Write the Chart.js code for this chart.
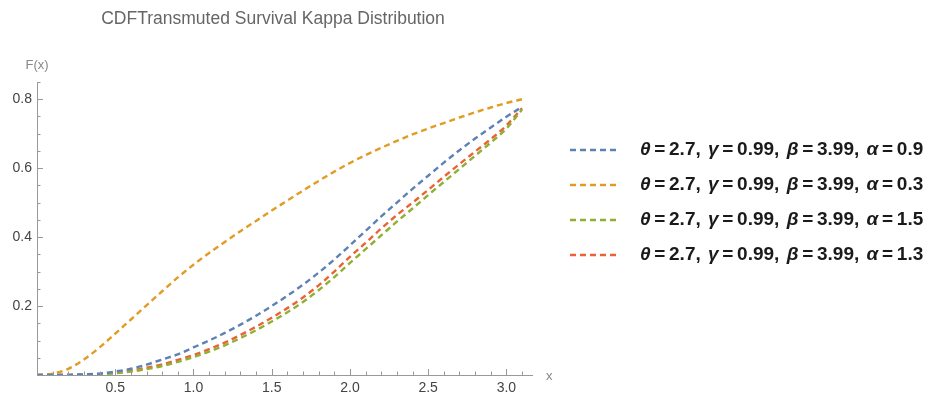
<!DOCTYPE html>
<html>
<head>
<meta charset="utf-8">
<script src="https://cdn.jsdelivr.net/npm/chart.js@4.4.1/dist/chart.umd.min.js"></script>
<style>
  html, body { margin: 0; padding: 0; background: #fff; }
  #wrap { width: 930px; height: 398px; position: relative; }
</style>
</head>
<body>
<div id="wrap"><canvas id="cdfChart"></canvas></div>
<script>
// x values sampled along the curves
const xs = [0, 0.1, 0.2, 0.3, 0.4, 0.5, 0.6, 0.7, 0.8, 0.9, 1.0, 1.1, 1.2, 1.3, 1.4, 1.5,
            1.6, 1.7, 1.8, 1.9, 2.0, 2.1, 2.2, 2.3, 2.4, 2.5, 2.6, 2.7, 2.8, 2.9, 3.0, 3.1];

// F(x) per alpha
const alpha09 = [0, 0, 0.0005, 0.002, 0.004, 0.01, 0.018, 0.03, 0.045, 0.06, 0.08, 0.1, 0.122, 0.146, 0.172, 0.2,
                 0.23, 0.262, 0.297, 0.335, 0.376, 0.418, 0.46, 0.5, 0.54, 0.578, 0.616, 0.652, 0.686, 0.718, 0.749, 0.778];
const alpha03 = [0, 0.004, 0.018, 0.045, 0.08, 0.12, 0.161, 0.202, 0.243, 0.283, 0.32, 0.354, 0.386, 0.417, 0.447, 0.477,
                 0.506, 0.535, 0.563, 0.59, 0.615, 0.638, 0.659, 0.679, 0.698, 0.715, 0.731, 0.747, 0.762, 0.776, 0.789, 0.80];
const alpha15 = [0, 0, 0, 0.001, 0.002, 0.005, 0.01, 0.017, 0.026, 0.038, 0.052, 0.068, 0.086, 0.107, 0.13, 0.155,
                 0.182, 0.212, 0.246, 0.284, 0.325, 0.365, 0.405, 0.445, 0.483, 0.522, 0.56, 0.598, 0.636, 0.674, 0.715, 0.77];
const alpha13 = [0, 0, 0, 0.001, 0.003, 0.007, 0.013, 0.021, 0.031, 0.044, 0.058, 0.075, 0.094, 0.116, 0.14, 0.166,
                 0.194, 0.225, 0.26, 0.3, 0.343, 0.383, 0.425, 0.464, 0.5, 0.537, 0.575, 0.612, 0.648, 0.684, 0.724, 0.774];

const seriesLabels = [
  'θ = 2.7,  γ = 0.99,  β = 3.99,  α = 0.9',
  'θ = 2.7,  γ = 0.99,  β = 3.99,  α = 0.3',
  'θ = 2.7,  γ = 0.99,  β = 3.99,  α = 1.5',
  'θ = 2.7,  γ = 0.99,  β = 3.99,  α = 1.3'
];
const seriesValues = [alpha09, alpha03, alpha15, alpha13];
const seriesColors = ['#5e81b5', '#e19c24', '#8fb032', '#eb6235'];

const xTickLabels = [0.5, 1.0, 1.5, 2.0, 2.5, 3.0];
const yTickLabels = [0.2, 0.4, 0.6, 0.8];

const datasets = seriesValues.map(function(vals, i) {
  return {
    label: seriesLabels[i],
    data: xs.map(function(x, j) { return { x: x, y: vals[j] }; }),
    borderColor: seriesColors[i],
    borderWidth: 2.4,
    borderDash: [6, 4],
    pointRadius: 0,
    fill: false,
    cubicInterpolationMode: 'monotone'
  };
});

// axes, ticks, title and legend drawn like the Mathematica plot
const decorations = {
  id: 'decorations',
  afterDraw: function(chart) {
    const ctx = chart.ctx;
    const xs_ = chart.scales.x;
    const ys_ = chart.scales.y;
    const x0 = xs_.getPixelForValue(0);
    const y0 = ys_.getPixelForValue(0);
    const xEnd = xs_.getPixelForValue(xs_.max);
    const yEnd = ys_.getPixelForValue(ys_.max);

    ctx.save();
    ctx.strokeStyle = '#999';
    ctx.lineWidth = 1;
    ctx.setLineDash([]);
    ctx.beginPath();
    ctx.moveTo(x0 + 0.5, y0);
    ctx.lineTo(x0 + 0.5, yEnd);
    ctx.moveTo(x0, y0 + 0.5);
    ctx.lineTo(xEnd, y0 + 0.5);
    ctx.stroke();

    // x ticks
    ctx.beginPath();
    for (let k = 1; k * 0.1 <= xs_.max + 1e-9; k++) {
      const px = Math.round(xs_.getPixelForValue(k * 0.1)) + 0.5;
      const len = (k % 5 === 0) ? 6 : 3.5;
      ctx.moveTo(px, y0);
      ctx.lineTo(px, y0 - len);
    }
    // y ticks
    for (let k = 1; k * 0.05 <= ys_.max + 1e-9; k++) {
      const py = Math.round(ys_.getPixelForValue(k * 0.05)) + 0.5;
      const len = (k % 4 === 0) ? 6 : 3.5;
      ctx.moveTo(x0, py);
      ctx.lineTo(x0 + len, py);
    }
    ctx.stroke();

    // tick labels
    ctx.fillStyle = '#444';
    ctx.font = '14px "Liberation Sans", Arial, sans-serif';
    ctx.textAlign = 'center';
    ctx.textBaseline = 'top';
    xTickLabels.forEach(function(v) {
      ctx.fillText(v.toFixed(1), xs_.getPixelForValue(v), y0 + 6);
    });
    ctx.textAlign = 'right';
    ctx.textBaseline = 'middle';
    yTickLabels.forEach(function(v) {
      ctx.fillText(v.toFixed(1), x0 - 5, ys_.getPixelForValue(v));
    });

    // axis names
    ctx.fillStyle = '#888';
    ctx.font = '13px "Liberation Sans", Arial, sans-serif';
    ctx.textAlign = 'center';
    ctx.fillText('F(x)', x0, yEnd - 17);
    ctx.textAlign = 'left';
    ctx.fillText('x', xEnd + 13, y0 + 1);

    // title
    ctx.fillStyle = '#666';
    ctx.font = '17.5px "Liberation Sans", Arial, sans-serif';
    ctx.textAlign = 'center';
    ctx.fillText('CDFTransmuted Survival Kappa Distribution', 273, 19);

    // legend
    const lx = 570, tx = 640, rowY = [150, 185, 220, 255];
    chart.data.datasets.forEach(function(ds, i) {
      const y = rowY[i];
      ctx.strokeStyle = ds.borderColor;
      ctx.lineWidth = 2.4;
      ctx.setLineDash([6, 4]);
      ctx.beginPath();
      ctx.moveTo(lx, y);
      ctx.lineTo(lx + 46, y);
      ctx.stroke();
      ctx.setLineDash([]);
      ctx.fillStyle = '#1a1a1a';
      ctx.textAlign = 'left';
      ctx.textBaseline = 'middle';
      let cx = tx;
      for (const ch of ds.label) {
        const greek = /[α-ωθ]/.test(ch);
        ctx.font = (greek ? 'italic ' : '') + 'bold 19px "Liberation Sans", Arial, sans-serif';
        ctx.fillText(ch, cx, y);
        cx += ctx.measureText(ch).width - (ch === ' ' ? 1.6 : 0);
      }
    });
    ctx.restore();
  }
};

new Chart(document.getElementById('cdfChart'), {
  type: 'line',
  data: { datasets: datasets },
  options: {
    responsive: true,
    maintainAspectRatio: false,
    animation: false,
    layout: { padding: { left: 37, right: 397, top: 82, bottom: 23 } },
    plugins: {
      legend: { display: false },
      tooltip: { enabled: false }
    },
    scales: {
      x: {
        type: 'linear', min: 0, max: 3.17,
        display: false
      },
      y: {
        type: 'linear', min: 0, max: 0.85,
        display: false
      }
    }
  },
  plugins: [decorations]
});
</script>
</body>
</html>
